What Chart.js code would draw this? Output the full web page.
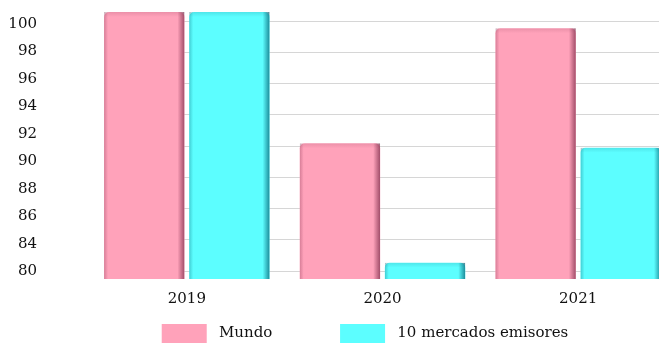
<!DOCTYPE html>
<html>
<head>
<meta charset="utf-8">
<script src="https://cdn.jsdelivr.net/npm/chart.js@4.4.0/dist/chart.umd.min.js"></script>
<style>
html,body{margin:0;padding:0;background:#fff;overflow:hidden;}
#wrap{width:738px;height:344px;}
</style>
</head>
<body>
<div id="wrap"><canvas id="c" width="738" height="344"></canvas></div>
<script>
// ---- data ----
const categories = ['2019', '2020', '2021'];
const mundo = [100.87, 91.32, 99.69];
const mercados = [100.87, 82.64, 91.0];
const seriesNames = ['Mundo', '10 mercados emisores'];
const tickValues = [100, 98, 96, 94, 92, 90, 88, 86, 84, 82];
const tickLabels = ['100', '98', '96', '94', '92', '90', '88', '86', '84', '80'];

// ---- layout / style ----
const PINK = '#FFA2BA';
const CYAN = '#5CFEFF';
const FONT = {family: '"DejaVu Serif", serif', size: 15};
const Y_MIN = 81.45, Y_MAX = 101.45;
const PX_PER_UNIT = 13.75;
const gridVals = [];
for (let k = 0; k < 9; k++) gridVals.push(100 - (20.7 + 31.25 * k - 24) / PX_PER_UNIT);

const shade = {
  id: 'shade',
  afterLayout(chart) {
    const lg = chart.legend;
    if (lg) { lg.left += 27; lg.right += 27; lg.top += 9; lg.bottom += 9; }
  },
  beforeDatasetsDraw(chart) {
    // horizontal grid, from the first bar's left edge to the right of the plot
    const ctx = chart.ctx;
    const sc = chart.scales.yg;
    const first = chart.getDatasetMeta(0).data[0];
    const x0 = first.x - first.width / 2;
    ctx.save();
    ctx.strokeStyle = '#d6d6d6';
    ctx.lineWidth = 1;
    sc.ticks.forEach(t => {
      const py = Math.round(sc.getPixelForValue(t.value)) + 0.5;
      ctx.beginPath();
      ctx.moveTo(x0, py);
      ctx.lineTo(chart.chartArea.right, py);
      ctx.stroke();
    });
    ctx.restore();
  },
  afterDatasetsDraw(chart) {
    const ctx = chart.ctx;
    const area = chart.chartArea;
    chart.data.datasets.forEach((ds, di) => {
      const meta = chart.getDatasetMeta(di);
      const dark = di === 0 ? 'rgba(120,40,70,' : 'rgba(0,90,110,';
      meta.data.forEach(bar => {
        const {x, y, width} = bar.getProps(['x', 'y', 'width'], true);
        const base = area.bottom;
        const l = x - width / 2, r = x + width / 2;
        ctx.save();
        ctx.beginPath();
        ctx.rect(l, y, width, base - y);
        ctx.clip();
        let g = ctx.createLinearGradient(r - 7, 0, r, 0);
        g.addColorStop(0, dark + '0)');
        g.addColorStop(1, dark + '0.7)');
        ctx.fillStyle = g;
        ctx.fillRect(r - 7, y, 7, base - y);
        g = ctx.createLinearGradient(l, 0, l + 4, 0);
        g.addColorStop(0, dark + '0.3)');
        g.addColorStop(1, dark + '0)');
        ctx.fillStyle = g;
        ctx.fillRect(l, y, 4, base - y);
        g = ctx.createLinearGradient(0, y, 0, y + 5);
        g.addColorStop(0, dark + '0.15)');
        g.addColorStop(1, dark + '0)');
        ctx.fillStyle = g;
        ctx.fillRect(l, y, width, 5);
        ctx.restore();
      });
    });
  }
};

new Chart(document.getElementById('c'), {
  type: 'bar',
  data: {
    labels: categories,
    datasets: [
      {label: seriesNames[0], data: mundo, backgroundColor: PINK, borderRadius: {topLeft: 5, topRight: 5}, borderSkipped: 'bottom'},
      {label: seriesNames[1], data: mercados, backgroundColor: CYAN, borderRadius: {topLeft: 5, topRight: 5}, borderSkipped: 'bottom'}
    ]
  },
  options: {
    responsive: false,
    animation: false,
    devicePixelRatio: 1,
    layout: {padding: {top: 4, right: 62, bottom: 0, left: 0}},
    datasets: {bar: {categoryPercentage: 0.87, barPercentage: 0.945}},
    plugins: {
      tooltip: {enabled: false},
      legend: {
        position: 'bottom',
        labels: {
          font: FONT, color: '#111', boxWidth: 45, boxHeight: 19, padding: 1,
          generateLabels(chart) {
            const items = Chart.defaults.plugins.legend.labels.generateLabels(chart);
            items.forEach((it, i) => {
              it.text = '\u00a0' + it.text + (i === 0 ? '\u00a0'.repeat(14) : '');
              it.lineWidth = 0;
            });
            return items;
          }
        }
      }
    },
    scales: {
      x: {
        grid: {display: false, drawTicks: false},
        border: {display: false},
        ticks: {font: FONT, color: '#111', padding: 11},
        afterFit(s) { s.height = 35; s.paddingLeft = 0; s.paddingRight = 0; }
      },
      y: {
        position: 'left',
        min: Y_MIN, max: Y_MAX,
        grid: {display: false, drawTicks: false},
        border: {display: false},
        afterBuildTicks(s) { s.ticks = tickValues.map(v => ({value: v})); },
        ticks: {font: FONT, color: '#111', padding: 52, autoSkip: false, callback: (v, i) => tickLabels[i]},
        afterFit(s) { s.width = 89; s.paddingTop = 0; s.paddingBottom = 0; }
      },
      yg: {
        position: 'right',
        min: Y_MIN, max: Y_MAX,
        grid: {display: false, drawTicks: false},
        border: {display: false},
        afterBuildTicks(s) { s.ticks = gridVals.map(v => ({value: v})); },
        ticks: {display: false, autoSkip: false},
        afterFit(s) { s.width = 0; s.paddingTop = 0; s.paddingBottom = 0; }
      }
    }
  },
  plugins: [shade]
});
</script>
</body>
</html>
